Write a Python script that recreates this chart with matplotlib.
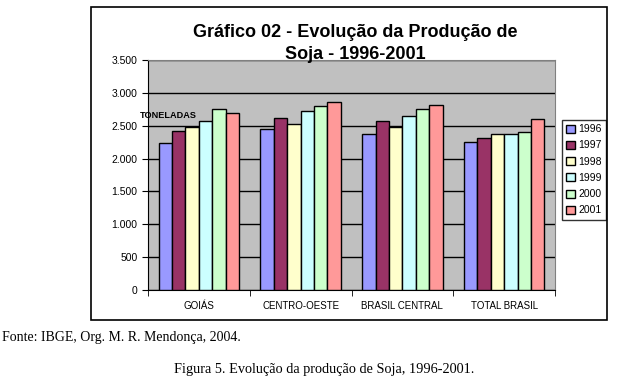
import matplotlib.pyplot as plt
import numpy as np
from matplotlib.patches import Rectangle
from matplotlib.ticker import FuncFormatter

regions = ["GOIÁS", "CENTRO-OESTE", "BRASIL CENTRAL", "TOTAL BRASIL"]
years = ["1996", "1997", "1998", "1999", "2000", "2001"]
colors = ["#9999FF", "#993366", "#FFFFCC", "#CCFFFF", "#CCFFCC", "#FF9999"]

# toneladas (mil), por ano
prod_1996 = [2230, 2445, 2370, 2245]
prod_1997 = [2420, 2610, 2570, 2310]
prod_1998 = [2475, 2520, 2475, 2370]
prod_1999 = [2570, 2720, 2645, 2370]
prod_2000 = [2750, 2795, 2750, 2405]
prod_2001 = [2690, 2855, 2810, 2600]
series = [prod_1996, prod_1997, prod_1998, prod_1999, prod_2000, prod_2001]

plt.rcParams["font.family"] = ["Liberation Sans", "DejaVu Sans"]

fig = plt.figure(figsize=(6.18, 3.92), dpi=100)

# outer chart frame
fig.patches.append(Rectangle((91 / 618, 1 - 320 / 392), 516 / 618, 313 / 392,
                             transform=fig.transFigure, fill=False,
                             edgecolor="black", linewidth=1.2))

ax = fig.add_axes([148 / 618, 1 - 290 / 392, 407 / 618, 230 / 392])
ax.set_facecolor("#C0C0C0")

x = np.arange(len(regions))
w = 0.132
for i, (vals, c, yr) in enumerate(zip(series, colors, years)):
    ax.bar(x + (i - 2.5) * w, vals, width=w, color=c, edgecolor="black",
           linewidth=1.0, label=yr, zorder=3)

ax.set_xlim(-0.5, len(regions) - 0.5)
ax.set_ylim(0, 3500)
ax.set_yticks(np.arange(0, 3501, 500))
ax.yaxis.set_major_formatter(FuncFormatter(lambda v, p: f"{int(v):,}".replace(",", ".")))
ax.yaxis.grid(True, color="black", linewidth=1.0, zorder=0)
ax.set_axisbelow(True)

ax.set_xticks(x)
ax.set_xticklabels(regions, fontsize=7)
ax.set_xticks(np.arange(-0.5, len(regions)), minor=True)
ax.tick_params(axis="x", which="major", length=0, pad=8)
ax.tick_params(axis="x", which="minor", length=4, direction="out")
ax.tick_params(axis="y", labelsize=7.5, length=4, direction="out")

for side in ["top", "right"]:
    ax.spines[side].set_color("#808080")
ax.spines["left"].set_color("black")
ax.spines["bottom"].set_color("black")

fig.text(355 / 618, 1 - 37 / 392, "Gráfico 02 - Evolução da Produção de",
         ha="center", va="baseline", fontsize=13, fontweight="bold")
fig.text(355 / 618, 1 - 59 / 392, "Soja - 1996-2001",
         ha="center", va="baseline", fontsize=13, fontweight="bold")
fig.text(140 / 618, 1 - 115 / 392, "TONELADAS", fontsize=6.6, fontweight="bold",
         ha="left", va="center")

leg = ax.legend(loc="upper left", bbox_to_anchor=(562 / 618, 1 - 120 / 392),
                bbox_transform=fig.transFigure, fontsize=7.5, frameon=True,
                fancybox=False, edgecolor="black", handlelength=0.8,
                handleheight=0.8, handletextpad=0.4, labelspacing=0.6,
                borderpad=0.4, borderaxespad=0)
leg.get_frame().set_linewidth(1.0)

fig.text(2 / 618, 1 - 337 / 392, "Fonte: IBGE, Org. M. R. Mendonça, 2004.",
         fontsize=10, family=["Liberation Serif", "DejaVu Serif"], ha="left", va="center")
fig.text(324 / 618, 1 - 370 / 392, "Figura 5. Evolução da produção de Soja, 1996-2001.",
         fontsize=10.3, family=["Liberation Serif", "DejaVu Serif"], ha="center", va="center")

fig.savefig("out.png", dpi=100)
